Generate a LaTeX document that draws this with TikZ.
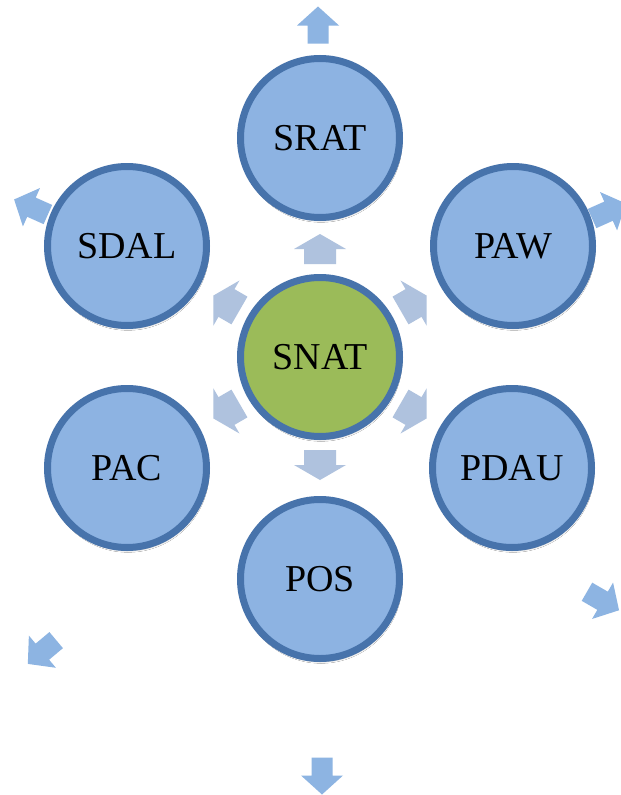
\documentclass[tikz,border=0pt]{standalone}
\usepackage{fontspec}
\setmainfont{Liberation Serif}
\usetikzlibrary{calc,shadows.blur}
\definecolor{ringblue}{HTML}{4773AB}
\definecolor{fillblue}{HTML}{8DB3E2}
\definecolor{fillgreen}{HTML}{9BBB59}
\definecolor{innerarrow}{HTML}{AFC2DE}
\definecolor{outerarrow}{HTML}{8DB4E2}
\tikzset{
  pics/barrow/.style n args={4}{code={
    \fill (-#1/2,-#3/2) -- (#1/2-#4,-#3/2) -- (#1/2-#4,-#2/2) -- (#1/2,0)
      -- (#1/2-#4,#2/2) -- (#1/2-#4,#3/2) -- (-#1/2,#3/2) -- cycle;}},
  innerarr/.style={fill=innerarrow},
  outerarr/.style={fill=outerarrow},
  bubble/.style={circle, draw=ringblue, line width=7pt, fill=fillblue,
    minimum size=159pt, inner sep=0pt,
    font=\fontsize{38}{42}\selectfont,
    blur shadow={shadow xshift=1pt, shadow yshift=-3pt, shadow opacity=30, shadow blur steps=6}},
  hub/.style={bubble, fill=fillgreen}
}
\begin{document}
\begin{tikzpicture}[x=1pt,y=-1pt]
\useasboundingbox (0,0) rectangle (621,795);
\clip (0,0) rectangle (621,795);
\fill[white] (0,0) rectangle (621,795);
% outer arrows
\pic[outerarr, rotate=90]  at (318,25)  {barrow={37}{42}{21}{19}};
\pic[outerarr, rotate=156] at (31,207)  {barrow={37}{42}{21}{19}};
\pic[outerarr, rotate=24]  at (609,211) {barrow={37}{42}{21}{19}};
\pic[outerarr, rotate=-30] at (603,601) {barrow={37}{42}{21}{19}};
\pic[outerarr, rotate=-140] at (42,652) {barrow={37}{42}{21}{19}};
\pic[outerarr, rotate=-90] at (322,776) {barrow={37}{42}{21}{19}};
% inner arrows
\coordinate (hubc) at (320,357);
\foreach \a in {90,30,150,210,330,270}{
  \pic[innerarr, rotate=\a] at ($(hubc)+(\a:108pt)$) {barrow={30}{52}{32}{15}};
}
% circles
\node[hub]    (snat) at (hubc) {SNAT};
\node[bubble] (srat) at (320,138) {SRAT};
\node[bubble] (sdal) at (127,246) {SDAL};
\node[bubble] (paw)  at (513,246) {PAW};
\node[bubble] (pac)  at (127,468) {PAC};
\node[bubble] (pdau) at (512,468) {PDAU};
\node[bubble] (pos)  at (320,579) {POS};
\end{tikzpicture}
\end{document}
